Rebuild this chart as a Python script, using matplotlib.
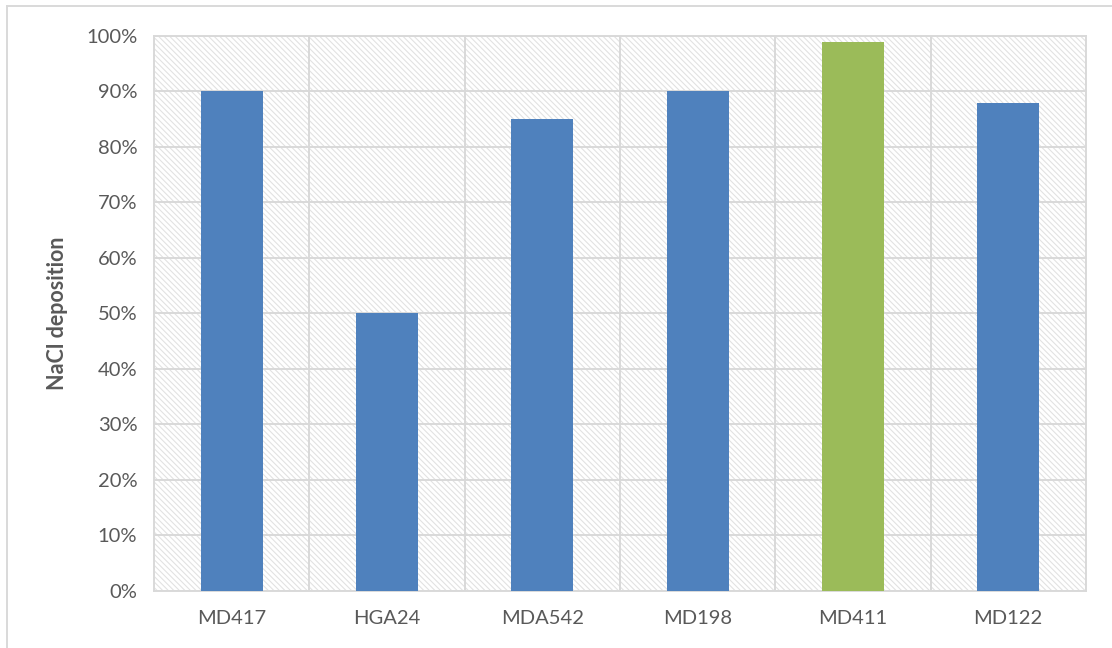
import matplotlib.pyplot as plt
import matplotlib.patches as mpatches
import numpy as np

# samples and NaCl deposition (%)
samples = ['MD417', 'HGA24', 'MDA542', 'MD198', 'MD411', 'MD122']
deposition = [90, 50, 85, 90, 99, 88]
bar_colors = ['#4f81bd', '#4f81bd', '#4f81bd', '#4f81bd', '#9bbb59', '#4f81bd']
yticks = np.arange(0, 101, 10)

plt.rcParams['font.family'] = ['Lato', 'DejaVu Sans']
plt.rcParams['hatch.linewidth'] = 0.8

fig = plt.figure(figsize=(11.12, 6.48), dpi=100)
ax = fig.add_axes([0.1385, 0.088, 0.838, 0.8565])

x = np.arange(len(samples))
ax.set_xlim(-0.5, len(samples) - 0.5)
ax.set_ylim(0, 100)

# hatched background of the plot area
bg = mpatches.Rectangle((0, 0), 1, 1, transform=ax.transAxes, facecolor='white',
                        edgecolor='#e2e2e2', hatch='\\\\\\\\\\\\', linewidth=0, zorder=0)
ax.add_patch(bg)

ax.bar(x, deposition, width=0.4, color=bar_colors, zorder=3)

ax.set_yticks(yticks)
ax.set_yticklabels(['%d%%' % v for v in yticks])
ax.set_xticks(x)
ax.set_xticklabels(samples)
ax.set_xticks(np.arange(-0.5, len(samples)), minor=True)

ax.grid(axis='y', which='major', color='#d9d9d9', linewidth=1.4, zorder=1)
ax.grid(axis='x', which='minor', color='#d9d9d9', linewidth=1.4, zorder=1)
ax.grid(axis='x', which='major', visible=False)
ax.set_axisbelow(True)

for s in ax.spines.values():
    s.set_color('#d9d9d9')
    s.set_linewidth(1.4)

ax.tick_params(axis='both', which='both', length=0, labelsize=14.5, labelcolor='#595959')
ax.tick_params(axis='y', pad=12)
ax.tick_params(axis='x', pad=14)

ax.set_ylabel('NaCl deposition', fontsize=15.5, fontweight='bold', color='#595959', labelpad=13)

# outer frame of the chart
fig.add_artist(plt.Line2D([0.0063, 0.0063], [0, 0.9907], color='#d9d9d9', linewidth=1.4,
                          transform=fig.transFigure))
fig.add_artist(plt.Line2D([0.0063, 1], [0.9907, 0.9907], color='#d9d9d9', linewidth=1.4,
                          transform=fig.transFigure))

fig.savefig('out.png', dpi=100)
